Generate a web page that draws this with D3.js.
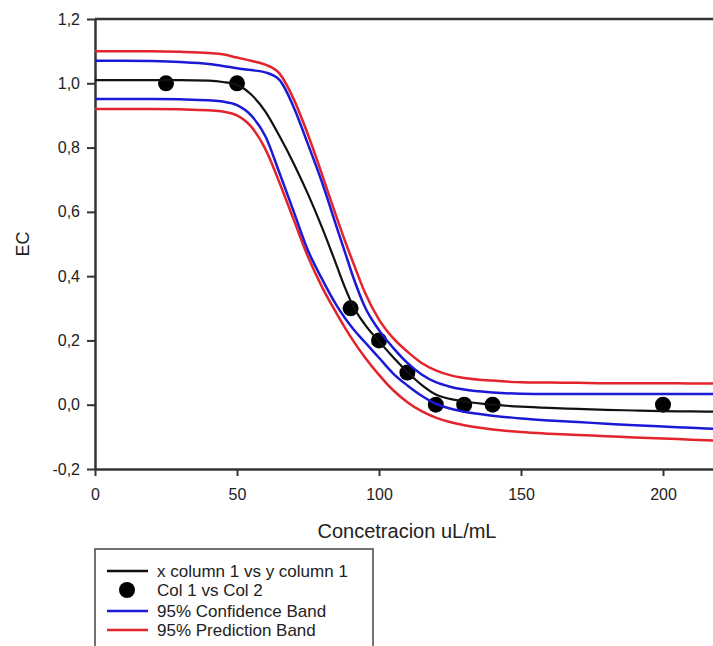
<!DOCTYPE html>
<html><head><meta charset="utf-8">
<script src="https://cdn.jsdelivr.net/npm/d3@7"></script>
<style>
body{margin:0;background:#fff;}
svg{display:block;}
text{font-family:"Liberation Sans",Arial,Helvetica,sans-serif;fill:#222;}
</style>
</head><body>
<svg id="chart" width="713" height="646"></svg>
<script>
// ---- data ----
const xFit      = [0, 10, 20, 30, 40, 45, 50, 55, 60, 65, 70, 75, 80, 85, 88, 91, 95, 100, 105, 110, 115, 120, 125, 130, 140, 150, 160, 170, 180, 190, 200, 210, 220];
const fitLine   = [1.01, 1.01, 1.01, 1.01, 1.008, 1.004, 0.995, 0.965, 0.912, 0.835, 0.75, 0.655, 0.55, 0.435, 0.365, 0.305, 0.25, 0.197, 0.148, 0.102, 0.062, 0.032, 0.018, 0.01, 0.0, -0.006, -0.01, -0.013, -0.016, -0.018, -0.02, -0.021, -0.022];
const confUpper = [1.07, 1.07, 1.069, 1.066, 1.06, 1.054, 1.047, 1.041, 1.034, 1.01, 0.925, 0.81, 0.69, 0.555, 0.475, 0.395, 0.305, 0.232, 0.177, 0.13, 0.094, 0.07, 0.056, 0.047, 0.038, 0.034, 0.033, 0.033, 0.033, 0.033, 0.033, 0.033, 0.033];
const confLower = [0.951, 0.951, 0.951, 0.95, 0.947, 0.943, 0.932, 0.9, 0.835, 0.72, 0.6, 0.48, 0.39, 0.31, 0.27, 0.235, 0.195, 0.146, 0.097, 0.06, 0.028, 0.003, -0.012, -0.022, -0.034, -0.043, -0.049, -0.054, -0.059, -0.064, -0.068, -0.072, -0.076];
const predUpper = [1.10, 1.10, 1.10, 1.098, 1.094, 1.09, 1.08, 1.07, 1.058, 1.03, 0.95, 0.84, 0.715, 0.585, 0.51, 0.44, 0.35, 0.265, 0.207, 0.165, 0.13, 0.107, 0.092, 0.083, 0.075, 0.07, 0.069, 0.068, 0.067, 0.067, 0.067, 0.066, 0.066];
const predLower = [0.92, 0.92, 0.92, 0.919, 0.916, 0.912, 0.9, 0.865, 0.795, 0.69, 0.575, 0.46, 0.365, 0.285, 0.24, 0.198, 0.148, 0.093, 0.045, 0.008, -0.02, -0.04, -0.054, -0.064, -0.077, -0.085, -0.09, -0.094, -0.098, -0.102, -0.105, -0.109, -0.112];

const dataX = [25, 50, 90, 100, 110, 120, 130, 140, 200];
const dataY = [1.0, 1.0, 0.3, 0.2, 0.1, 0.0, 0.0, 0.0, 0.0];

const xTicks = [0, 50, 100, 150, 200];
const xTickLabels = ["0", "50", "100", "150", "200"];
const yTicks = [-0.2, 0, 0.2, 0.4, 0.6, 0.8, 1.0, 1.2];
const yTickLabels = ["-0,2", "0,0", "0,2", "0,4", "0,6", "0,8", "1,0", "1,2"];

const xTitle = "Concetracion uL/mL";
const yTitle = "EC";
const legendLabels = ["x column 1 vs y column 1", "Col 1 vs Col 2", "95% Confidence Band", "95% Prediction Band"];

const colBlack = "#111111", colBlue = "#1a1ad6", colRed = "#e3242b";

// ---- drawing ----
const svg = d3.select("#chart");
svg.append("rect").attr("width", 713).attr("height", 646).attr("fill", "#fff");

const x = d3.scaleLinear().domain([0, 220]).range([95, 719.8]);
const y = d3.scaleLinear().domain([-0.2, 1.2]).range([469, 19]);

// top frame line
svg.append("line")
  .attr("x1", x(0)).attr("x2", 713).attr("y1", y(1.2)).attr("y2", y(1.2))
  .attr("stroke", "#333").attr("stroke-width", 2.5);

// axes
const yAxis = svg.append("g").attr("transform", `translate(${x(0)},0)`)
  .call(d3.axisLeft(y).tickValues(yTicks).tickFormat((d, i) => yTickLabels[i])
    .tickSize(8).tickSizeOuter(0).tickPadding(7));
const xAxis = svg.append("g").attr("transform", `translate(0,${y(-0.2)})`)
  .call(d3.axisBottom(x).tickValues(xTicks).tickFormat((d, i) => xTickLabels[i])
    .tickSize(7).tickSizeOuter(0).tickPadding(13));
[yAxis, xAxis].forEach(g => {
  g.select(".domain").attr("stroke", "#333").attr("stroke-width", 2.5);
  g.selectAll(".tick line").attr("stroke", "#333").attr("stroke-width", 2);
  g.selectAll(".tick text").attr("font-size", 16).attr("fill", "#222")
    .attr("font-family", '"Liberation Sans",Arial,sans-serif');
});

// axis titles
svg.append("text").attr("x", 407).attr("y", 538).attr("text-anchor", "middle")
  .attr("font-size", 20).text(xTitle);
svg.append("text").attr("transform", `translate(29,${y(0.5)}) rotate(-90)`)
  .attr("text-anchor", "middle").attr("font-size", 18).text(yTitle);

// data points
svg.append("g").selectAll("circle").data(dataX).join("circle")
  .attr("cx", d => x(d)).attr("cy", (d, i) => y(dataY[i])).attr("r", 8).attr("fill", "#000");

// curves
const line = arr => d3.line().x((d, i) => x(xFit[i])).y(d => y(d)).curve(d3.curveMonotoneX)(arr);
const curves = [
  [predUpper, colRed, 2.5], [predLower, colRed, 2.5],
  [confUpper, colBlue, 2.5], [confLower, colBlue, 2.5],
  [fitLine, colBlack, 2.2]
];
svg.append("g").selectAll("path").data(curves).join("path")
  .attr("d", d => line(d[0])).attr("fill", "none")
  .attr("stroke", d => d[1]).attr("stroke-width", d => d[2]);

// legend
const lg = svg.append("g");
lg.append("rect").attr("x", 95).attr("y", 549).attr("width", 278).attr("height", 110)
  .attr("fill", "#fff").attr("stroke", "#444").attr("stroke-width", 1.5);
const rowY = [571, 590, 611, 630];
const legendStyles = [
  {type: "line", color: colBlack},
  {type: "dot", color: "#000"},
  {type: "line", color: colBlue},
  {type: "line", color: colRed}
];
legendLabels.forEach((lab, i) => {
  const s = legendStyles[i];
  if (s.type === "line") {
    lg.append("line").attr("x1", 107).attr("x2", 148).attr("y1", rowY[i]).attr("y2", rowY[i])
      .attr("stroke", s.color).attr("stroke-width", 2.5);
  } else {
    lg.append("circle").attr("cx", 127).attr("cy", rowY[i]).attr("r", 8).attr("fill", s.color);
  }
  lg.append("text").attr("x", 157).attr("y", rowY[i]).attr("dy", "0.35em")
    .attr("font-size", 17).text(lab);
});
</script>
</body></html>
